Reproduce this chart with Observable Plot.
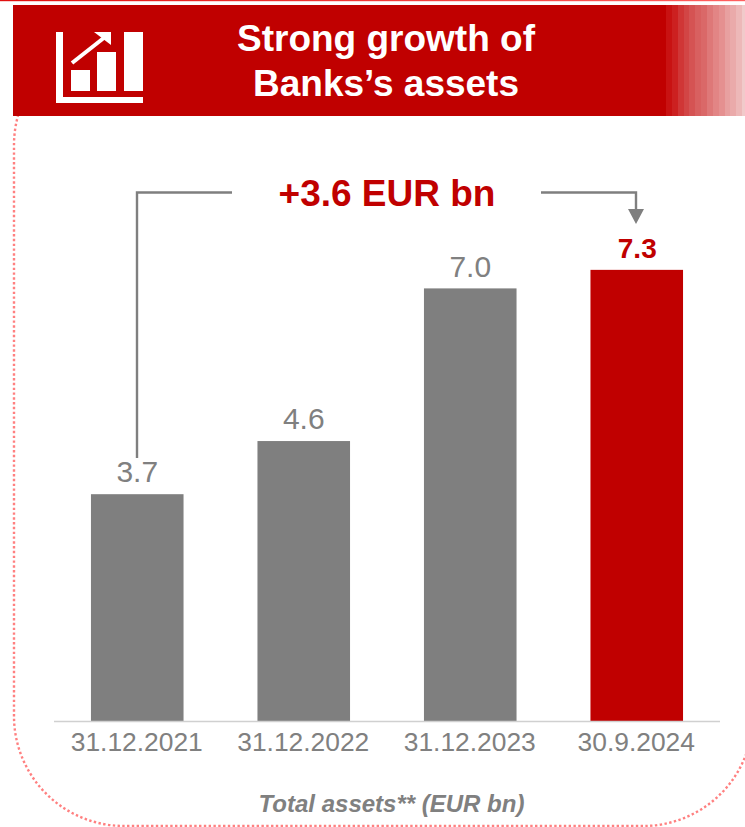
<!DOCTYPE html>
<html>
<head>
<meta charset="utf-8">
<script src="https://cdn.jsdelivr.net/npm/d3@7"></script>
<script src="https://cdn.jsdelivr.net/npm/@observablehq/plot@0.6"></script>
<style>
html,body{margin:0;padding:0;background:#fff;overflow:hidden}
svg{display:block}
</style>
</head>
<body>
<div id="chart"></div>
<script>
const categories = ["31.12.2021", "31.12.2022", "31.12.2023", "30.9.2024"];
const barValues = [3.67, 4.53, 7.0, 7.3];
const valueLabels = ["3.7", "4.6", "7.0", "7.3"];
const barColors = ["#7f7f7f", "#7f7f7f", "#7f7f7f", "#c00000"];
const labelColors = ["#808080", "#808080", "#808080", "#c00000"];
const labelWeights = ["normal", "normal", "normal", "bold"];
const titleLines = ["Strong growth of", "Banks’s assets"];
const changeLabel = "+3.6 EUR bn";
const footerLabel = "Total assets** (EUR bn)";
const stripeEdges = [666, 672, 678, 684, 689, 695, 701, 707, 713, 719, 725, 730, 736, 742, 745];
const stripeColors = ["#c81212", "#cc2020", "#d03636", "#d24545", "#d55353", "#d86060", "#da6868", "#de7878", "#e28585", "#e59090", "#e8a0a0", "#eaaaaa", "#edb8b8", "#f1caca"];

const rows = categories.map((c, i) => ({
  category: c, value: barValues[i], label: valueLabels[i],
  fill: barColors[i], text: labelColors[i], weight: labelWeights[i]
}));
const font = "'Liberation Sans', Arial, sans-serif";

const chart = Plot.plot({
  width: 745, height: 827,
  marginTop: 0, marginBottom: 106, marginLeft: 54, marginRight: 25,
  style: {background: "#fff", fontFamily: font},
  x: {domain: categories, paddingInner: 0.444, paddingOuter: 0.222, round: false, label: null},
  y: {domain: [0, 721 / 61.8], label: null, axis: null},
  marks: [
    Plot.barY(rows, {x: "category", y: "value", fill: d => d.fill}),
    Plot.ruleY([0], {stroke: "#d0d0d0", strokeWidth: 1.5}),
    Plot.axisX({tickSize: 0, tickPadding: 11, fontSize: 26.4, fill: "#808080", label: null, dx: -1}),
    Plot.text(rows.filter(d => d.weight === "normal"), {
      x: "category", y: "value", text: "label", dy: -22, dx: -0.5, fontSize: 30, fill: d => d.text
    }),
    Plot.text(rows.filter(d => d.weight === "bold"), {
      x: "category", y: "value", text: "label", dy: -21, fontSize: 28, fontWeight: "bold", fill: d => d.text
    })
  ]
});

const svg = d3.select(chart);
const back = svg.insert("g", ":first-child");
back.append("rect").attr("x", 14).attr("y", 35).attr("width", 739).attr("height", 791).attr("rx", 110)
  .attr("fill", "none").attr("stroke", "#ff8080").attr("stroke-width", 2.4).attr("stroke-dasharray", "2.4 2.4");

const deco = svg.append("g");
deco.append("defs").append("linearGradient").attr("id", "topLine")
  .selectAll("stop").data([["0%", "#e01010"], ["100%", "#ff6060"]]).join("stop")
  .attr("offset", d => d[0]).attr("stop-color", d => d[1]);
deco.append("rect").attr("x", 0).attr("y", 0).attr("width", 745).attr("height", 1.2).attr("fill", "url(#topLine)");
deco.append("rect").attr("x", 13).attr("y", 5).attr("width", 653).attr("height", 111).attr("fill", "#c00000");
stripeColors.forEach((c, i) => {
  deco.append("rect").attr("x", stripeEdges[i]).attr("y", 5)
    .attr("width", stripeEdges[i + 1] - stripeEdges[i]).attr("height", 111).attr("fill", c);
});

const icon = deco.append("g").attr("fill", "#fff");
[[56, 32, 7, 71], [56, 97, 87, 6], [71, 70, 19, 21], [97, 52, 19, 39], [124, 32, 19, 59]].forEach(r => {
  icon.append("rect").attr("x", r[0]).attr("y", r[1]).attr("width", r[2]).attr("height", r[3]);
});
icon.append("path").attr("d", "M94,32H111V45Z");
icon.append("path").attr("d", "M72,63L105,37").attr("stroke", "#fff").attr("stroke-width", 4).attr("fill", "none");

titleLines.forEach((t, i) => {
  deco.append("text").attr("x", 386).attr("y", 51 + i * 45).attr("text-anchor", "middle")
    .attr("font-family", font).attr("font-weight", "bold").attr("font-size", 37).attr("fill", "#fff").text(t);
});

deco.append("path").attr("d", "M137,458V192.5H232M541,192.5H636V210")
  .attr("fill", "none").attr("stroke", "#7f7f7f").attr("stroke-width", 2.4);
deco.append("path").attr("d", "M628,209H644L636,224Z").attr("fill", "#7f7f7f");
deco.append("text").attr("x", 387).attr("y", 206).attr("text-anchor", "middle")
  .attr("font-family", font).attr("font-weight", "bold").attr("font-size", 37).attr("fill", "#c00000").text(changeLabel);
deco.append("text").attr("x", 391.5).attr("y", 812).attr("text-anchor", "middle")
  .attr("font-family", font).attr("font-weight", "bold").attr("font-style", "italic").attr("font-size", 24).attr("fill", "#808080").text(footerLabel);

document.getElementById("chart").appendChild(chart);
</script>
</body>
</html>
